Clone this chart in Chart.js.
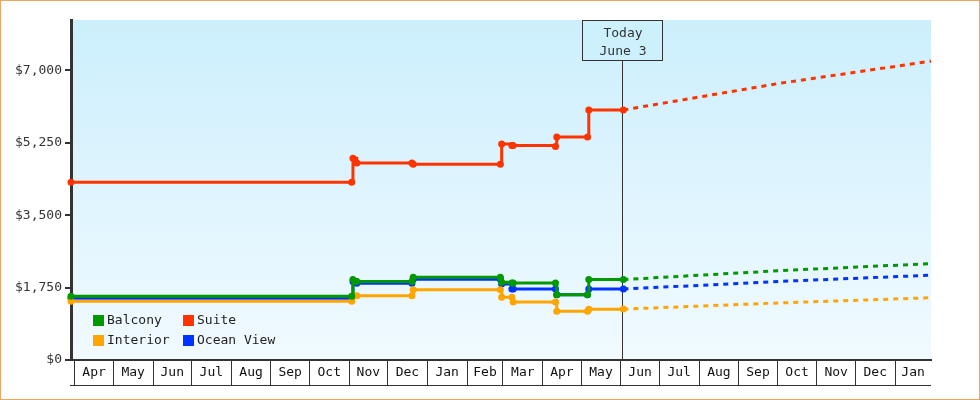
<!DOCTYPE html>
<html>
<head>
<meta charset="utf-8">
<script src="https://cdn.jsdelivr.net/npm/chart.js@4.4.1/dist/chart.umd.min.js"></script>
<style>
  html, body { margin: 0; padding: 0; background: #fff; }
  #wrap { width: 980px; height: 400px; }
</style>
</head>
<body>
<div id="wrap"><canvas id="priceChart" width="980" height="400"></canvas></div>
<script>
// price samples, one value per cabin type for each date
const sampleDates = ['2013-03-29', '2013-11-03', '2013-11-04', '2013-11-07', '2013-12-20', '2013-12-21',
    '2014-02-27', '2014-02-28', '2014-03-08', '2014-03-09', '2014-04-11', '2014-04-12',
    '2014-05-06', '2014-05-07', '2014-06-03'];
const balcony   = [1540, 1540, 1945, 1900, 1900, 2000, 2000, 1880, 1860, 1860, 1860, 1580, 1580, 1945, 1945];
const suite     = [4300, 4300, 4880, 4760, 4760, 4735, 4735, 5220, 5185, 5185, 5160, 5390, 5390, 6045, 6045];
const interior  = [1420, 1420, 1555, 1555, 1555, 1700, 1700, 1520, 1520, 1405, 1405, 1180, 1180, 1225, 1230];
const oceanView = [1495, 1495, 1900, 1855, 1855, 1955, 1955, 1835, 1715, 1715, 1715, 1580, 1580, 1715, 1715];

// projected prices after today
const forecastDates     = ['2014-06-03', '2014-10-03', '2015-01-29'];
const balconyForecast   = [1945, 2160, 2330];
const suiteForecast     = [6045, 6690, 7225];
const interiorForecast  = [1230, 1380, 1505];
const oceanViewForecast = [1715, 1900, 2050];

const todayDate = '2014-06-03';
const todayLabel = ['Today', 'June 3'];

const axisStart = '2013-03-29';
const axisEnd = '2015-01-29';
const monthStarts = ['2013-04-01', '2013-05-01', '2013-06-01', '2013-07-01', '2013-08-01', '2013-09-01',
    '2013-10-01', '2013-11-01', '2013-12-01', '2014-01-01', '2014-02-01', '2014-03-01', '2014-04-01',
    '2014-05-01', '2014-06-01', '2014-07-01', '2014-08-01', '2014-09-01', '2014-10-01', '2014-11-01',
    '2014-12-01', '2015-01-01'];
const monthLabels = ['Apr', 'May', 'Jun', 'Jul', 'Aug', 'Sep', 'Oct', 'Nov', 'Dec', 'Jan', 'Feb', 'Mar',
    'Apr', 'May', 'Jun', 'Jul', 'Aug', 'Sep', 'Oct', 'Nov', 'Dec', 'Jan'];
const yTicks = [0, 1750, 3500, 5250, 7000];

const colors = { balcony: '#009900', suite: '#ff3300', interior: '#ffa500', oceanView: '#0033ff' };

const toDay = (s) => Date.parse(s) / 86400000;
const points = (dates, values) => dates.map((d, i) => ({ x: toDay(d), y: values[i] }));

function history(label, values, color) {
    return {
        label: label,
        data: points(sampleDates, values),
        borderColor: color,
        backgroundColor: color,
        borderWidth: 3,
        pointRadius: 3.5,
        pointBorderWidth: 0,
        stepped: true,
        clip: false
    };
}

function forecast(values, color) {
    return {
        label: '',
        data: points(forecastDates, values),
        borderColor: color,
        borderWidth: 3,
        borderDash: [5, 5],
        pointRadius: 0,
        clip: false
    };
}

const backgroundPlugin = {
    id: 'background',
    beforeDraw(chart) {
        const { ctx, chartArea: a } = chart;
        ctx.save();
        ctx.fillStyle = '#fff';
        ctx.fillRect(0, 0, chart.width, chart.height);
        const g = ctx.createLinearGradient(0, a.top, 0, a.bottom);
        g.addColorStop(0, 'rgb(204,239,253)');
        g.addColorStop(1, 'rgb(241,250,255)');
        ctx.fillStyle = g;
        ctx.fillRect(a.left, a.top, a.right - a.left, a.bottom - a.top);
        ctx.restore();
    }
};

const todayPlugin = {
    id: 'today',
    beforeDatasetsDraw(chart) {
        const { ctx, chartArea: a } = chart;
        const x = Math.round(chart.scales.x.getPixelForValue(toDay(todayDate))) - 0.5;
        ctx.save();
        ctx.strokeStyle = '#333';
        ctx.lineWidth = 1;
        ctx.beginPath();
        ctx.moveTo(x, a.top + 40);
        ctx.lineTo(x, a.bottom);
        ctx.stroke();
        ctx.restore();
    },
    afterDraw(chart) {
        const { ctx, chartArea: a } = chart;
        const x = Math.round(chart.scales.x.getPixelForValue(toDay(todayDate))) - 0.5;
        ctx.save();
        ctx.fillStyle = 'rgb(205,240,253)';
        ctx.fillRect(x - 40, a.top + 0.5, 80, 40);
        ctx.strokeStyle = '#333';
        ctx.lineWidth = 1;
        ctx.strokeRect(x - 40, a.top + 0.5, 80, 40);
        ctx.fillStyle = '#333';
        ctx.font = '13px "DejaVu Sans Mono"';
        ctx.textAlign = 'center';
        ctx.textBaseline = 'alphabetic';
        ctx.fillText(todayLabel[0], x + 0.5, a.top + 17);
        ctx.fillText(todayLabel[1], x + 0.5, a.top + 34.5);
        ctx.restore();
    }
};

const legendPlugin = {
    id: 'cabinLegend',
    afterDraw(chart) {
        const { ctx, chartArea: a } = chart;
        const items = chart.data.datasets.filter(ds => ds.label);
        ctx.save();
        ctx.font = '13px "DejaVu Sans Mono"';
        ctx.textBaseline = 'middle';
        ctx.textAlign = 'left';
        items.forEach((ds, i) => {
            const col = i % 2, row = Math.floor(i / 2);
            const x = a.left + 22 + col * 90;
            const y = a.bottom - 45 + row * 20;
            ctx.fillStyle = ds.borderColor;
            ctx.fillRect(x, y, 11, 11);
            ctx.fillStyle = '#222';
            ctx.fillText(ds.label, x + 14, y + 6);
        });
        ctx.restore();
    }
};

const framePlugin = {
    id: 'frame',
    afterDraw(chart) {
        const { ctx, chartArea: a } = chart;
        ctx.save();
        ctx.strokeStyle = '#333';
        ctx.lineWidth = 1;
        ctx.beginPath();
        ctx.moveTo(a.left - 1, a.bottom + 25.5);
        ctx.lineTo(a.right, a.bottom + 25.5);
        ctx.stroke();
        ctx.strokeStyle = '#e9a862';
        ctx.strokeRect(0.5, 0.5, chart.width - 1, chart.height - 1);
        ctx.restore();
    }
};

Chart.defaults.font.family = '"DejaVu Sans Mono", monospace';
Chart.defaults.font.size = 13;
Chart.defaults.color = '#333';

new Chart(document.getElementById('priceChart').getContext('2d'), {
    type: 'line',
    data: {
        datasets: [
            history('Balcony', balcony, colors.balcony),
            history('Suite', suite, colors.suite),
            history('Interior', interior, colors.interior),
            history('Ocean View', oceanView, colors.oceanView),
            forecast(balconyForecast, colors.balcony),
            forecast(suiteForecast, colors.suite),
            forecast(interiorForecast, colors.interior),
            forecast(oceanViewForecast, colors.oceanView)
        ]
    },
    options: {
        responsive: false,
        animation: false,
        events: [],
        layout: { padding: { top: 20, right: 49, left: 0, bottom: 0 } },
        plugins: {
            legend: { display: false },
            tooltip: { enabled: false }
        },
        scales: {
            x: {
                type: 'linear',
                min: toDay(axisStart),
                max: toDay(axisEnd),
                afterBuildTicks: (scale) => {
                    const end = toDay(axisEnd);
                    const ticks = [];
                    monthStarts.forEach((m, i) => {
                        const a = toDay(m);
                        const b = i + 1 < monthStarts.length ? toDay(monthStarts[i + 1]) : end;
                        ticks.push({ value: a, mid: false });
                        ticks.push({ value: (a + Math.min(b, end)) / 2, mid: true, name: monthLabels[i] });
                    });
                    scale.ticks = ticks;
                },
                afterFit: (scale) => { scale.height = 40; },
                border: { display: true, color: '#333', width: 2 },
                grid: {
                    drawOnChartArea: false,
                    tickLength: 25,
                    lineWidth: 1,
                    color: (ctx) => (ctx.tick && ctx.tick.mid ? 'rgba(0,0,0,0)' : '#333')
                },
                ticks: {
                    autoSkip: false,
                    maxRotation: 0,
                    padding: -20,
                    color: '#111',
                    callback: (value, index, ticks) => (ticks[index].mid ? ticks[index].name : '')
                }
            },
            y: {
                min: 0,
                max: 8220,
                afterBuildTicks: (scale) => { scale.ticks = yTicks.map(v => ({ value: v })); },
                afterFit: (scale) => { scale.width = 71; },
                border: { display: true, color: '#333', width: 3 },
                grid: { drawOnChartArea: false, tickLength: 6, lineWidth: 2, color: '#333' },
                ticks: {
                    padding: 3,
                    callback: (value) => '$' + value.toLocaleString('en-US')
                }
            }
        }
    },
    plugins: [backgroundPlugin, todayPlugin, legendPlugin, framePlugin]
});
</script>
</body>
</html>
